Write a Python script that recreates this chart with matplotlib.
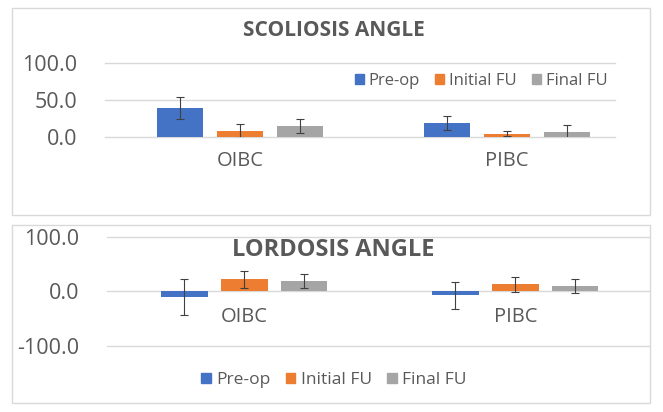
import numpy as np
import matplotlib
matplotlib.use("Agg")
import matplotlib.pyplot as plt
from matplotlib.patches import Rectangle, Patch

plt.rcParams['font.family'] = ['Open Sans', 'DejaVu Sans']

groups = ['OIBC', 'PIBC']
series = ['Pre-op', 'Initial FU', 'Final FU']
colors = ['#4472C4', '#ED7D31', '#A5A5A5']

# scoliosis angle (mean, sd)
scol_mean = [[39, 19], [8, 4.5], [14.5, 6.5]]
scol_err = [[15, 9], [9, 3], [9.5, 9.5]]

# lordosis angle (mean, sd)
lord_mean = [[-10, -7], [22, 13], [18.5, 10]]
lord_err = [[33, 25], [15, 14], [13, 13]]

W, H = 663, 412
fig = plt.figure(figsize=(W/100, H/100), dpi=100)
txt = '#595959'
grid_c = '#D9D9D9'

def fx(px):
    return px / W

def fy(py):
    return 1 - py / H

# panel borders
for (x0, y0, x1, y1) in [(12, 8, 650, 215), (12, 225, 650, 403)]:
    fig.patches.append(Rectangle((fx(x0), fy(y1)), fx(x1 - x0), (y1 - y0) / H,
                                 transform=fig.transFigure, fill=False,
                                 edgecolor='#D9D9D9', linewidth=1.0))

def draw(ax, means, errs, ticks, offs, width):
    x = np.arange(len(groups))
    for i, s in enumerate(series):
        ax.bar(x + (i - 1) * offs, means[i], width, color=colors[i], zorder=2,
               yerr=errs[i], capsize=3,
               error_kw=dict(ecolor='#404040', elinewidth=0.8, capthick=0.8, zorder=3))
    ax.set_yticks(ticks)
    ax.set_yticklabels(['%.1f' % t for t in ticks])
    for t in ticks:
        ax.axhline(t, color=grid_c, linewidth=1.0, zorder=0, clip_on=False)
    for sp in ax.spines.values():
        sp.set_visible(False)
    ax.set_xticks([])
    ax.tick_params(axis='y', length=0, pad=20, labelsize=15.5, labelcolor=txt)
    ax.patch.set_alpha(0)

# top: scoliosis
ax1 = fig.add_axes([fx(105), fy(137), fx(510), 74 / H])
ax1.set_ylim(0, 100)
ax1.set_xlim(-0.506, 1.404)
draw(ax1, scol_mean, scol_err, [0, 50, 100], 0.225, 0.172)
fig.text(fx(334), fy(30), 'SCOLIOSIS ANGLE', ha='center', va='center',
         fontsize=15, fontweight='bold', color=txt)
for g, xc in zip(groups, [240, 507]):
    fig.text(fx(xc), fy(161), g, ha='center', va='center', fontsize=14.5, color=txt)
handles = [Patch(color=c, label=s) for c, s in zip(colors, series)]
fig.legend(handles=handles, loc='center', bbox_to_anchor=(fx(481), fy(81)),
           ncol=3, frameon=False, fontsize=12, labelcolor=txt,
           handlelength=0.55, handleheight=0.55, handletextpad=0.3,
           columnspacing=0.9)

# bottom: lordosis
ax2 = fig.add_axes([fx(107), fy(346), fx(543), 109.3 / H])
ax2.set_ylim(-100, 100)
ax2.set_xlim(-0.506, 1.498)
draw(ax2, lord_mean, lord_err, [-100, 0, 100], 0.221, 0.173)
fig.text(fx(333), fy(250), 'LORDOSIS ANGLE', ha='center', va='center',
         fontsize=17, fontweight='bold', color=txt)
for g, xc in zip(groups, [244, 516]):
    fig.text(fx(xc), fy(317), g, ha='center', va='center', fontsize=14.5, color=txt)
fig.legend(handles=handles, loc='center', bbox_to_anchor=(fx(334), fy(380)),
           ncol=3, frameon=False, fontsize=12.5, labelcolor=txt,
           handlelength=0.55, handleheight=0.55, handletextpad=0.3,
           columnspacing=0.9)

fig.savefig('out.png', dpi=100, facecolor='white')
